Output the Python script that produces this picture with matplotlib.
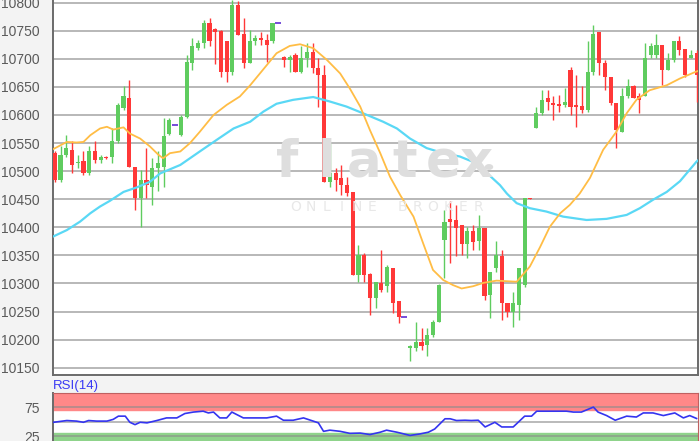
import numpy as np
import matplotlib
matplotlib.use('Agg')
import matplotlib.pyplot as plt
from matplotlib.patches import Circle

plt.rcParams['font.family'] = ['Liberation Sans', 'DejaVu Sans']

# candle data (open, high, low, close), one per trading period
opens = [10532, 10484, 10529, 10538, 10514, 10518, 10496, 10535, 10520, 10526,
         10526, 10553, 10612, 10630, 10508, 10452, 10484, 10472, 10505, 10508,
         10567, 10583, 10564, 10597, 10692, 10719, 10729, 10763, 10754, 10750,
         10731, 10677, 10796, 10745, 10692, 10731, 10737, 10734, 10731, 10763,
         10704, 10698, 10707, 10677, 10701, 10713, 10683, 10671, 10481, 10496,
         10487, 10475, 10462, 10315, 10351, 10317, 10274, 10301, 10296, 10327,
         10268, 10240, 10185, 10185, 10196, 10191, 10208, 10232, 10377, 10414,
         10413, 10404, 10370, 10394, 10375, 10398, 10280, 10327, 10348, 10266,
         10250, 10262, 10297, 10452, 10576, 10603, 10630, 10621, 10620, 10618,
         10680, 10618, 10616, 10609, 10677, 10748, 10692, 10668, 10621, 10570,
         10633, 10651, 10633, 10633, 10707, 10707, 10725, 10680, 10698, 10731,
         10717, 10701, 10710]
highs = [10535, 10544, 10564, 10553, 10529, 10535, 10544, 10553, 10529, 10527,
         10576, 10621, 10651, 10662, 10508, 10502, 10541, 10523, 10535, 10594,
         10594, 10583, 10600, 10707, 10737, 10734, 10769, 10772, 10755, 10751,
         10731, 10805, 10803, 10772, 10751, 10742, 10748, 10745, 10763, 10763,
         10705, 10707, 10710, 10722, 10728, 10728, 10701, 10689, 10550, 10505,
         10511, 10490, 10462, 10369, 10354, 10318, 10303, 10360, 10333, 10327,
         10268, 10240, 10191, 10232, 10220, 10220, 10235, 10299, 10431, 10446,
         10440, 10404, 10401, 10404, 10422, 10398, 10321, 10375, 10360, 10266,
         10285, 10327, 10453, 10452, 10615, 10645, 10645, 10633, 10636, 10648,
         10686, 10671, 10651, 10731, 10760, 10748, 10698, 10668, 10621, 10648,
         10664, 10653, 10639, 10728, 10728, 10745, 10725, 10710, 10731, 10741,
         10717, 10716, 10716]
lows = [10480, 10481, 10526, 10496, 10505, 10493, 10494, 10514, 10514, 10521,
        10514, 10550, 10609, 10508, 10431, 10401, 10452, 10440, 10464, 10472,
        10564, 10583, 10562, 10594, 10680, 10716, 10719, 10722, 10690, 10668,
        10659, 10671, 10742, 10683, 10692, 10725, 10725, 10695, 10728, 10763,
        10686, 10677, 10677, 10674, 10686, 10674, 10615, 10481, 10472, 10464,
        10458, 10455, 10315, 10303, 10303, 10244, 10256, 10285, 10285, 10247,
        10229, 10240, 10161, 10179, 10182, 10170, 10205, 10232, 10309, 10336,
        10348, 10351, 10345, 10360, 10360, 10271, 10238, 10321, 10235, 10241,
        10223, 10235, 10294, 10450, 10576, 10600, 10609, 10591, 10606, 10615,
        10600, 10579, 10603, 10606, 10671, 10671, 10645, 10618, 10541, 10570,
        10630, 10630, 10603, 10633, 10701, 10701, 10653, 10680, 10695, 10707,
        10668, 10701, 10624]
closes = [10484, 10529, 10541, 10511, 10517, 10496, 10535, 10520, 10526, 10523,
          10553, 10618, 10633, 10508, 10452, 10484, 10475, 10505, 10514, 10562,
          10591, 10583, 10597, 10695, 10722, 10728, 10763, 10731, 10748, 10677,
          10677, 10796, 10742, 10692, 10731, 10737, 10734, 10725, 10763, 10763,
          10698, 10704, 10677, 10701, 10713, 10683, 10671, 10481, 10496, 10484,
          10475, 10461, 10315, 10351, 10315, 10274, 10303, 10288, 10330, 10265,
          10241, 10240, 10189, 10196, 10188, 10208, 10232, 10297, 10410, 10410,
          10398, 10370, 10394, 10373, 10398, 10277, 10321, 10351, 10265, 10250,
          10266, 10327, 10452, 10450, 10603, 10627, 10624, 10618, 10616, 10623,
          10615, 10615, 10609, 10677, 10745, 10692, 10668, 10621, 10573, 10633,
          10651, 10630, 10627, 10701, 10722, 10725, 10680, 10698, 10731, 10716,
          10671, 10707, 10671]

# moving averages (candle index, price)
ma_fast_x = [-0.5, 2.1, 3.8, 5.0, 6.2, 7.9, 9.1, 10.2, 12.0, 13.1, 14.9, 16.6, 18.1,
             18.9, 20.1, 21.9, 23.6, 25.3, 27.7, 30.0, 32.3, 34.1, 35.8, 38.7, 41.0,
             42.8, 45.1, 47.5, 49.8, 51.5, 53.3, 55.0, 56.8, 58.5, 60.3, 62.6, 64.3,
             66.0, 67.8, 69.5, 71.0, 73.0, 74.8, 77.1, 80.6, 82.9, 84.7, 86.4, 88.2,
             89.9, 91.6, 93.4, 95.7, 98.0, 99.8, 101.5, 103.8, 106.8, 109.1, 111.4, 112.6]
ma_fast = [10538, 10552, 10551, 10552, 10564, 10576, 10579, 10574, 10578, 10567,
           10558, 10544, 10529, 10523, 10532, 10535, 10550, 10570, 10600, 10618,
           10633, 10653, 10674, 10710, 10723, 10726, 10719, 10698, 10674, 10647,
           10615, 10573, 10532, 10490, 10457, 10419, 10371, 10324, 10306, 10297,
           10291, 10295, 10301, 10305, 10303, 10330, 10365, 10401, 10425, 10440,
           10460, 10488, 10538, 10570, 10603, 10627, 10644, 10653, 10665, 10675, 10680]
ma_slow_x = [-0.4, 2.1, 4.4, 6.2, 7.9, 9.6, 12.0, 14.3, 16.6, 18.4, 21.9, 25.3, 28.3,
             31.2, 34.1, 36.4, 38.7, 41.6, 45.1, 48.0, 50.9, 53.8, 57.3, 59.7, 62.0,
             64.9, 67.8, 70.7, 73.6, 75.9, 77.7, 78.9, 80.6, 82.9, 85.8, 88.7, 92.8,
             96.3, 99.8, 102.1, 104.4, 106.8, 109.1, 112.0, 112.6]
ma_slow = [10383, 10395, 10410, 10425, 10437, 10447, 10463, 10471, 10481, 10496,
           10511, 10535, 10556, 10576, 10588, 10606, 10620, 10627, 10632, 10624,
           10615, 10603, 10588, 10576, 10558, 10541, 10532, 10526, 10514, 10492,
           10475, 10460, 10443, 10434, 10428, 10419, 10413, 10415, 10422, 10434,
           10449, 10463, 10482, 10517, 10522]

# RSI(14) (candle index, value)
rsi_x = [-0.2, 2.1, 3.8, 5.0, 5.9, 7.3, 9.1, 10.2, 11.1, 12.3, 13.1, 14.0, 14.9, 16.1,
         17.8, 19.5, 21.3, 22.7, 24.2, 25.9, 26.8, 27.7, 28.8, 30.0, 30.9, 32.9, 34.6,
         37.0, 38.7, 39.9, 41.6, 43.4, 45.1, 46.0, 46.9, 48.0, 49.8, 51.5, 53.3, 55.0,
         56.8, 57.9, 59.7, 62.0, 63.7, 65.2, 66.3, 68.1, 69.0, 70.1, 71.6, 72.7, 73.9,
         75.1, 76.8, 78.0, 80.0, 82.0, 83.2, 84.1, 86.2, 89.3, 90.5, 91.9, 94.0, 94.8,
         96.3, 97.8, 99.8, 101.5, 102.7, 104.4, 106.2, 108.2, 109.7, 110.8, 112.0]
rsi = [49, 52, 51, 49, 52, 51, 51, 54, 59.5, 59.5, 49, 45, 49, 48, 52, 56.5, 56.5,
       64, 66.5, 68, 65, 66.5, 56.5, 56.5, 66.5, 56.5, 56.5, 56.5, 59.5, 52.5, 52.5,
       56.5, 51, 48, 33.5, 35.5, 33.5, 30, 30.5, 28, 32, 35.5, 32, 26.5, 29,
       32, 37.5, 55, 55, 52, 52.5, 52, 52.5, 41, 49, 41, 41, 59.5, 59.5, 68, 68, 68,
       66.5, 66.5, 75, 66.5, 60.5, 52.5, 59.5, 58, 65, 65, 60.5, 65, 56.5, 60.5, 55.5]

ticks = list(range(10150, 10801, 50))

W, H = 700, 441


def box(x0, y0, x1, y1):
    # pixel box -> figure fraction
    return [x0 / W, 1 - y1 / H, (x1 - x0) / W, (y1 - y0) / H]


fig = plt.figure(figsize=(7, 4.41), dpi=100, facecolor='#f3f3f3')

# watermark
for ch, cx in zip('flatex', [287, 327, 364, 405, 443, 476]):
    fig.text(cx / W, 1 - 163 / H, ch, ha='center', va='center', fontsize=37,
             fontweight='bold', color='#dedede', family='DejaVu Sans', zorder=0)
for i, ch in enumerate('ONLINE BROKER'):
    fig.text((296 + i * 15.2) / W, 1 - 207 / H, ch, ha='center', va='center',
             fontsize=10, color='#e8e8e8', family='DejaVu Sans', zorder=0)
fig.add_artist(Circle((489 / W, 1 - 167 / H), 3.5 / W, color='#dcdcdc',
                      transform=fig.transFigure, zorder=0))

ax = fig.add_axes(box(52.5, 0, 698, 374.5))
ax.patch.set_alpha(0)
fig.patches.append(plt.Rectangle((52.5 / W, 1 - 374.5 / H), 645.5 / W, 374.5 / H,
                                 transform=fig.transFigure, color='white', zorder=-1))

o = np.array(opens, float)
h = np.array(highs, float)
l = np.array(lows, float)
c = np.array(closes, float)
x = np.arange(len(o))
up = c > o
dn = c < o
fl = c == o

green = '#5fcc5f'
red = '#ff3838'
purple = '#6a3fd6'

ax.vlines(x[up], l[up], h[up], color=green, lw=1, zorder=3)
ax.bar(x[up], np.maximum(c[up] - o[up], 1.5), bottom=o[up], width=0.72,
       color=green, zorder=3)
ax.vlines(x[dn], l[dn], h[dn], color=red, lw=1, zorder=3)
ax.bar(x[dn], np.maximum(o[dn] - c[dn], 1.5), bottom=c[dn], width=0.72,
       color=red, zorder=3)
ax.hlines(o[fl], x[fl] - 0.5, x[fl] + 0.5, color=purple, lw=1.3, zorder=3)

ax.plot(ma_slow_x, ma_slow, color='#5ad8f5', lw=1.6, zorder=4)
ax.plot(ma_fast_x, ma_fast, color='#ffbd45', lw=1.3, zorder=4)

ax.set_xlim(-0.4, 112.25)
ax.set_ylim(10137.8, 10804.8)
ax.set_xticks([])
ax.set_yticks(ticks)
ax.tick_params(axis='y', length=0, pad=9, labelsize=10, labelcolor='#5a5a5a')
ax.grid(axis='y', color='#ababab', lw=1.2)
ax.set_axisbelow(True)
ax.spines['top'].set_visible(False)
for s in ['left', 'bottom', 'right']:
    ax.spines[s].set_color('#6a6a6a')
    ax.spines[s].set_linewidth(1.4)

# RSI panel
rax = fig.add_axes(box(52.5, 392.5, 698, 450.9))
rax.set_facecolor('white')
rax.axhspan(70, 100, color='#ff8888', zorder=1)
rax.axhspan(0, 30, color='#8fd38b', zorder=1)
for v in [25, 50, 75]:
    rax.axhline(v, color='#8c8c8c', lw=1.2, alpha=0.7, zorder=2)
rax.plot(rsi_x, rsi, color='#3434f0', lw=1.2, zorder=3)
rax.set_xlim(-0.4, 112.25)
rax.set_ylim(0, 100)
rax.set_xticks([])
rax.set_yticks([25, 75])
rax.tick_params(axis='y', length=0, pad=9, labelsize=10, labelcolor='#5a5a5a')
for s in ['top', 'right', 'bottom']:
    rax.spines[s].set_color('#c06060')
    rax.spines[s].set_linewidth(0.8)
rax.spines['left'].set_color('#6a6a6a')
rax.spines['left'].set_linewidth(1.4)

fig.text(53 / W, 1 - 385.5 / H, 'RSI(14)', color='#3a3af5', fontsize=9.5,
         ha='left', va='center')

fig.savefig('out.png', dpi=100, facecolor=fig.get_facecolor())
